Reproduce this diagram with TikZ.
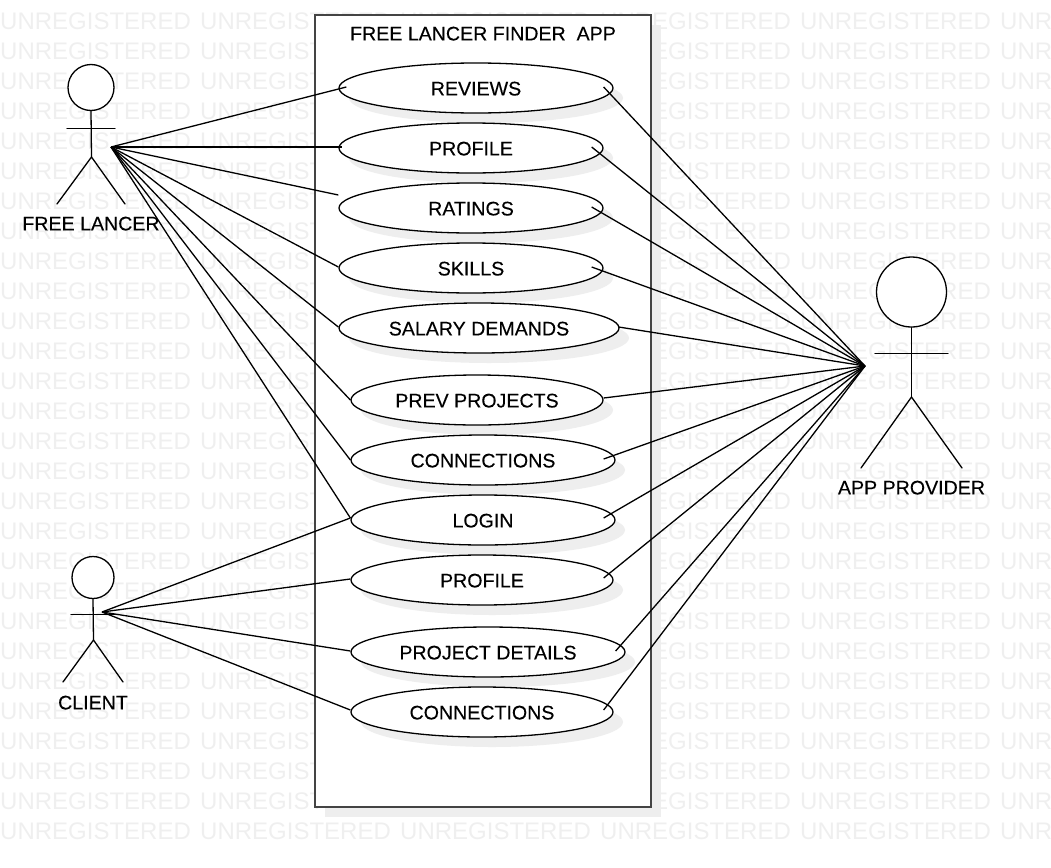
\documentclass[tikz,border=0pt]{standalone}
\usepackage{fontspec}
\setmainfont{Liberation Sans}
\usetikzlibrary{shapes.geometric,shadows}
\definecolor{markgray}{HTML}{EFEFEF}
\definecolor{shadegray}{HTML}{EEEEEE}
\definecolor{framegray}{HTML}{444444}
\newcommand{\labelfont}{\fontsize{19.6}{24}\selectfont\addfontfeatures{FakeBold=0.25}}
\tikzset{
  mark text/.style={anchor=west,inner sep=0pt,text=markgray,font=\fontsize{24}{24}\selectfont},
  app frame/.style={draw=framegray,line width=1.8pt,fill=white,minimum width=336pt,minimum height=792pt,
    drop shadow={shadow xshift=10pt,shadow yshift=-10pt,opacity=1,fill=shadegray}},
  usecase/.style={ellipse,draw=black,line width=1.3pt,fill=white,inner sep=0pt,minimum height=50pt,
    font=\labelfont,text height=15pt,
    drop shadow={shadow xshift=10pt,shadow yshift=-10pt,opacity=1,fill=shadegray}},
  head/.style={circle,draw=black,line width=1.3pt,fill=white,inner sep=0pt},
  label text/.style={inner sep=0pt,font=\labelfont,text height=15pt},
  stick/.style={line width=1.3pt,line cap=round},
  conn/.style={line width=1.3pt,draw=black}
}
\begin{document}
\begin{tikzpicture}[x=1pt,y=-1pt]
\useasboundingbox (0,0) rectangle (1051,867);
\clip (0,0) rectangle (1051,867);
\foreach \r in {0,...,27}
  \foreach \c in {0,...,5}
    \node [mark text] (mark\r x\c) at (200*\c,21.7+30*\r) {UNREGISTERED};
\node [app frame] (appBox) at (483,411) {};
\node [label text] (appTitle) at (483,33) {FREE LANCER FINDER \ APP};
\node [usecase,minimum width=274pt] (ucReviews) at (476,88) {REVIEWS};
\node [usecase,minimum width=264pt] (ucProfile) at (471,148) {PROFILE};
\node [usecase,minimum width=264pt] (ucRatings) at (471,208) {RATINGS};
\node [usecase,minimum width=264pt] (ucSkills) at (471,268) {SKILLS};
\node [usecase,minimum width=280pt] (ucSalary) at (479,328) {SALARY DEMANDS};
\node [usecase,minimum width=252pt] (ucPrev) at (477,400) {PREV PROJECTS};
\node [usecase,minimum width=264pt] (ucConn) at (483,460) {CONNECTIONS};
\node [usecase,minimum width=264pt] (ucLogin) at (483,520) {LOGIN};
\node [usecase,minimum width=262pt] (ucClientProfile) at (482,580) {PROFILE};
\node [usecase,minimum width=274pt] (ucDetails) at (488,652) {PROJECT DETAILS};
\node [usecase,minimum width=262pt] (ucClientConn) at (482,712) {CONNECTIONS};
\node [head,minimum size=46pt] (freeHead) at (91,87.5) {};
\coordinate (freeHip) at (91.5,157);
\draw [stick] (freeHead.south) -- (freeHip);
\draw [stick] (67,128.5) -- (115,128.5);
\draw [stick] (57,204) -- (freeHip) -- (125,204);
\node [label text] (freeLabel) at (91,223) {FREE LANCER};
\node [head,minimum size=42pt] (clientHead) at (93,577.5) {};
\coordinate (clientHip) at (93.5,640);
\draw [stick] (clientHead.south) -- (clientHip);
\draw [stick] (71,614.5) -- (115,614.5);
\draw [stick] (63,682) -- (clientHip) -- (123,682);
\node [label text] (clientLabel) at (93,702) {CLIENT};
\node [head,minimum size=70pt] (provHead) at (911.5,292) {};
\coordinate (provHip) at (911.5,397);
\draw [stick] (provHead.south) -- (provHip);
\draw [stick] (875,353.5) -- (948,353.5);
\draw [stick] (861,468) -- (provHip) -- (962,468);
\node [label text] (provLabel) at (911.5,487) {APP PROVIDER};
\coordinate (freeHand) at (111,147);
\coordinate (clientHand) at (102,612);
\coordinate (provHand) at (865,366);
\draw [conn] (freeHand) -- ([xshift=8pt,yshift=1pt]ucReviews.west);
\draw [conn] (freeHand) -- ([xshift=4pt,yshift=1pt]ucProfile.west);
\draw [conn] (freeHand) -- ([yshift=13pt]ucRatings.west);
\draw [conn] (freeHand) -- ([yshift=1pt]ucSkills.west);
\draw [conn] (freeHand) -- ([yshift=1pt]ucSalary.west);
\draw [conn] (freeHand) -- (ucPrev.west);
\draw [conn] (freeHand) -- (ucConn.west);
\draw [conn] (freeHand) -- ([yshift=2pt]ucLogin.west);
\draw [conn] (clientHand) -- ([yshift=2pt]ucLogin.west);
\draw [conn] (clientHand) -- ([yshift=1pt]ucClientProfile.west);
\draw [conn] (clientHand) -- ([yshift=1pt]ucDetails.west);
\draw [conn] (clientHand) -- ([yshift=2pt]ucClientConn.west);
\draw [conn] (provHand) -- ([xshift=-10pt,yshift=1pt]ucReviews.east);
\draw [conn] (provHand) -- ([xshift=-12pt,yshift=1pt]ucProfile.east);
\draw [conn] (provHand) -- ([xshift=-12pt,yshift=1pt]ucRatings.east);
\draw [conn] (provHand) -- ([xshift=-12pt,yshift=1pt]ucSkills.east);
\draw [conn] (provHand) -- ([xshift=-1pt,yshift=1pt]ucSalary.east);
\draw [conn] (provHand) -- ([yshift=2pt]ucPrev.east);
\draw [conn] (provHand) -- ([xshift=-12pt,yshift=1pt]ucConn.east);
\draw [conn] (provHand) -- ([xshift=-12pt,yshift=2pt]ucLogin.east);
\draw [conn] (provHand) -- ([xshift=-10pt,yshift=2pt]ucClientProfile.east);
\draw [conn] (provHand) -- ([xshift=-10pt,yshift=1pt]ucDetails.east);
\draw [conn] (provHand) -- ([xshift=-10pt,yshift=2pt]ucClientConn.east);
\end{tikzpicture}
\end{document}
